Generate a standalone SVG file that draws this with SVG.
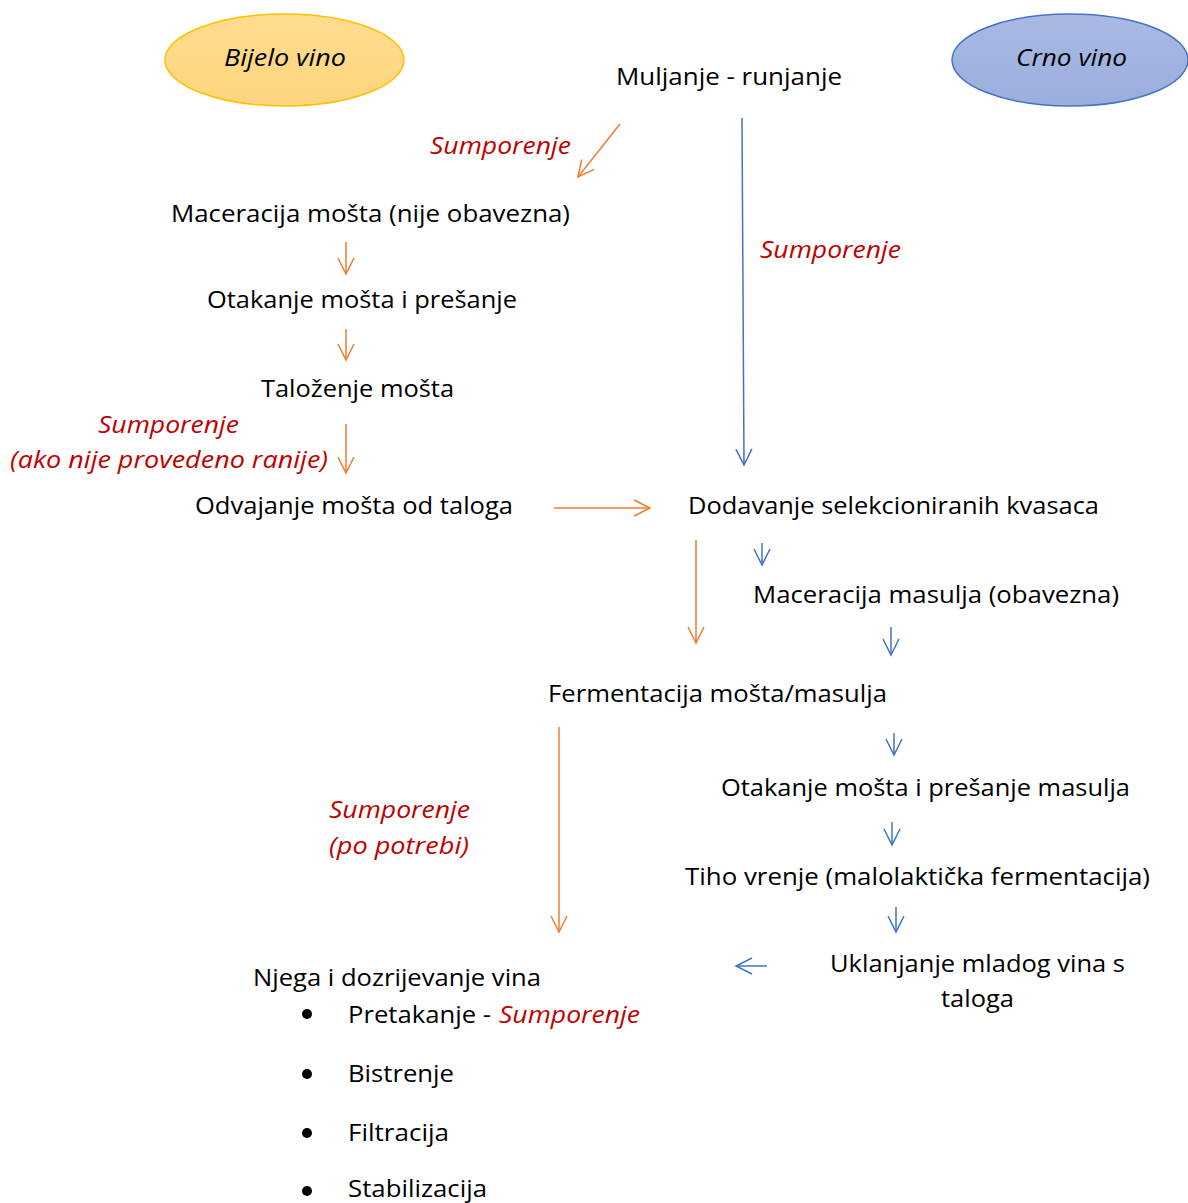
<svg xmlns="http://www.w3.org/2000/svg" width="1188" height="1203" viewBox="0 0 1188 1203">
<style>
text{font-family:"Open Sans","Liberation Sans",sans-serif;font-size:23px;fill:#000}
.r{fill:#C00000;font-style:italic}
.i{font-style:italic}
.o{stroke:#ED7D31;stroke-width:1.5;fill:none}
.b{stroke:#4472C4;stroke-width:1.5;fill:none}
</style>
<defs>
<linearGradient id="gy" x1="0" y1="0" x2="0" y2="1"><stop offset="0" stop-color="#FFDC90"/><stop offset="1" stop-color="#FED57E"/></linearGradient>
<linearGradient id="gb" x1="0" y1="0" x2="0" y2="1"><stop offset="0" stop-color="#A9B9E3"/><stop offset="1" stop-color="#9AAEDD"/></linearGradient>
<marker id="mo" viewBox="0 0 20 20" refX="18" refY="10" markerWidth="20" markerHeight="20" markerUnits="userSpaceOnUse" orient="auto"><path d="M2,2 L18,10 L2,18" fill="none" stroke="#ED7D31" stroke-width="1.5"/></marker>
<marker id="mb" viewBox="0 0 20 20" refX="18" refY="10" markerWidth="20" markerHeight="20" markerUnits="userSpaceOnUse" orient="auto"><path d="M2,2 L18,10 L2,18" fill="none" stroke="#4472C4" stroke-width="1.5"/></marker>
</defs>
<g id="bijelo"><ellipse cx="284.5" cy="60" rx="119.5" ry="46" fill="url(#gy)" stroke="#FFC000" stroke-width="1.5"/><text class="i" x="224" y="66" textLength="122" lengthAdjust="spacingAndGlyphs" style="font-size:24px">Bijelo vino</text></g>
<g id="crno"><ellipse cx="1070" cy="60" rx="118" ry="46" fill="url(#gb)" stroke="#4472C4" stroke-width="1.5"/><text class="i" x="1016" y="66" textLength="111" lengthAdjust="spacingAndGlyphs" style="font-size:24px">Crno vino</text></g>
<g id="n1"><text x="616" y="85" textLength="226" lengthAdjust="spacingAndGlyphs">Muljanje - runjanje</text></g>
<g id="n2"><text x="171" y="222" textLength="399" lengthAdjust="spacingAndGlyphs">Maceracija mošta (nije obavezna)</text></g>
<g id="n3"><text x="207" y="308" textLength="310" lengthAdjust="spacingAndGlyphs">Otakanje mošta i prešanje</text></g>
<g id="n4"><text x="261" y="397" textLength="193" lengthAdjust="spacingAndGlyphs">Taloženje mošta</text></g>
<g id="n5"><text x="195" y="514" textLength="318" lengthAdjust="spacingAndGlyphs">Odvajanje mošta od taloga</text></g>
<g id="n6"><text x="688" y="514" textLength="411" lengthAdjust="spacingAndGlyphs">Dodavanje selekcioniranih kvasaca</text></g>
<g id="n7"><text x="753" y="603" textLength="366" lengthAdjust="spacingAndGlyphs">Maceracija masulja (obavezna)</text></g>
<g id="n8"><text x="548" y="702" textLength="339" lengthAdjust="spacingAndGlyphs">Fermentacija mošta/masulja</text></g>
<g id="n9"><text x="721" y="796" textLength="409" lengthAdjust="spacingAndGlyphs">Otakanje mošta i prešanje masulja</text></g>
<g id="n10"><text x="685" y="885" textLength="465" lengthAdjust="spacingAndGlyphs">Tiho vrenje (malolaktička fermentacija)</text></g>
<g id="n11"><text x="830" y="972" textLength="295" lengthAdjust="spacingAndGlyphs">Uklanjanje mladog vina s</text><text x="941" y="1007" textLength="73" lengthAdjust="spacingAndGlyphs">taloga</text></g>
<g id="n12"><text x="253" y="986" textLength="288" lengthAdjust="spacingAndGlyphs">Njega i dozrijevanje vina</text>
<circle cx="307" cy="1014" r="5"/><circle cx="307" cy="1074" r="5"/><circle cx="307" cy="1133" r="5"/><circle cx="307" cy="1191" r="5"/>
<text x="348" y="1023" textLength="143" lengthAdjust="spacingAndGlyphs">Pretakanje -</text>
<text class="r" x="499" y="1023" textLength="141" lengthAdjust="spacingAndGlyphs">Sumporenje</text>
<text x="348" y="1082" textLength="106" lengthAdjust="spacingAndGlyphs">Bistrenje</text>
<text x="348" y="1141" textLength="101" lengthAdjust="spacingAndGlyphs">Filtracija</text>
<text x="348" y="1197" textLength="139" lengthAdjust="spacingAndGlyphs">Stabilizacija</text></g>
<g id="labels">
<text class="r" x="430" y="154" textLength="141" lengthAdjust="spacingAndGlyphs">Sumporenje</text>
<text class="r" x="760" y="258" textLength="141" lengthAdjust="spacingAndGlyphs">Sumporenje</text>
<text class="r" x="98" y="433" textLength="141" lengthAdjust="spacingAndGlyphs">Sumporenje</text>
<text class="r" x="10" y="468" textLength="318" lengthAdjust="spacingAndGlyphs">(ako nije provedeno ranije)</text>
<text class="r" x="329" y="818" textLength="141" lengthAdjust="spacingAndGlyphs">Sumporenje</text>
<text class="r" x="329" y="854" textLength="140" lengthAdjust="spacingAndGlyphs">(po potrebi)</text>
</g>
<g id="connectors">
<line class="o" x1="620" y1="124" x2="578" y2="177" marker-end="url(#mo)"/>
<line class="b" x1="742" y1="118" x2="744" y2="465" marker-end="url(#mb)"/>
<line class="o" x1="346" y1="242" x2="346" y2="274" marker-end="url(#mo)"/>
<line class="o" x1="346" y1="329" x2="346" y2="360" marker-end="url(#mo)"/>
<line class="o" x1="346" y1="424" x2="346" y2="473" marker-end="url(#mo)"/>
<line class="o" x1="554" y1="508" x2="650" y2="508" marker-end="url(#mo)"/>
<line class="o" x1="696" y1="540" x2="696" y2="643" marker-end="url(#mo)"/>
<line class="b" x1="762" y1="543" x2="762" y2="565" marker-end="url(#mb)"/>
<line class="b" x1="891" y1="627" x2="891" y2="655" marker-end="url(#mb)"/>
<line class="b" x1="894" y1="733" x2="894" y2="755" marker-end="url(#mb)"/>
<line class="b" x1="892" y1="822" x2="892" y2="845" marker-end="url(#mb)"/>
<line class="b" x1="896" y1="907" x2="896" y2="932" marker-end="url(#mb)"/>
<line class="o" x1="559" y1="727" x2="559" y2="932" marker-end="url(#mo)"/>
<line class="b" x1="767" y1="966" x2="736" y2="966" marker-end="url(#mb)"/>
</g>
</svg>
